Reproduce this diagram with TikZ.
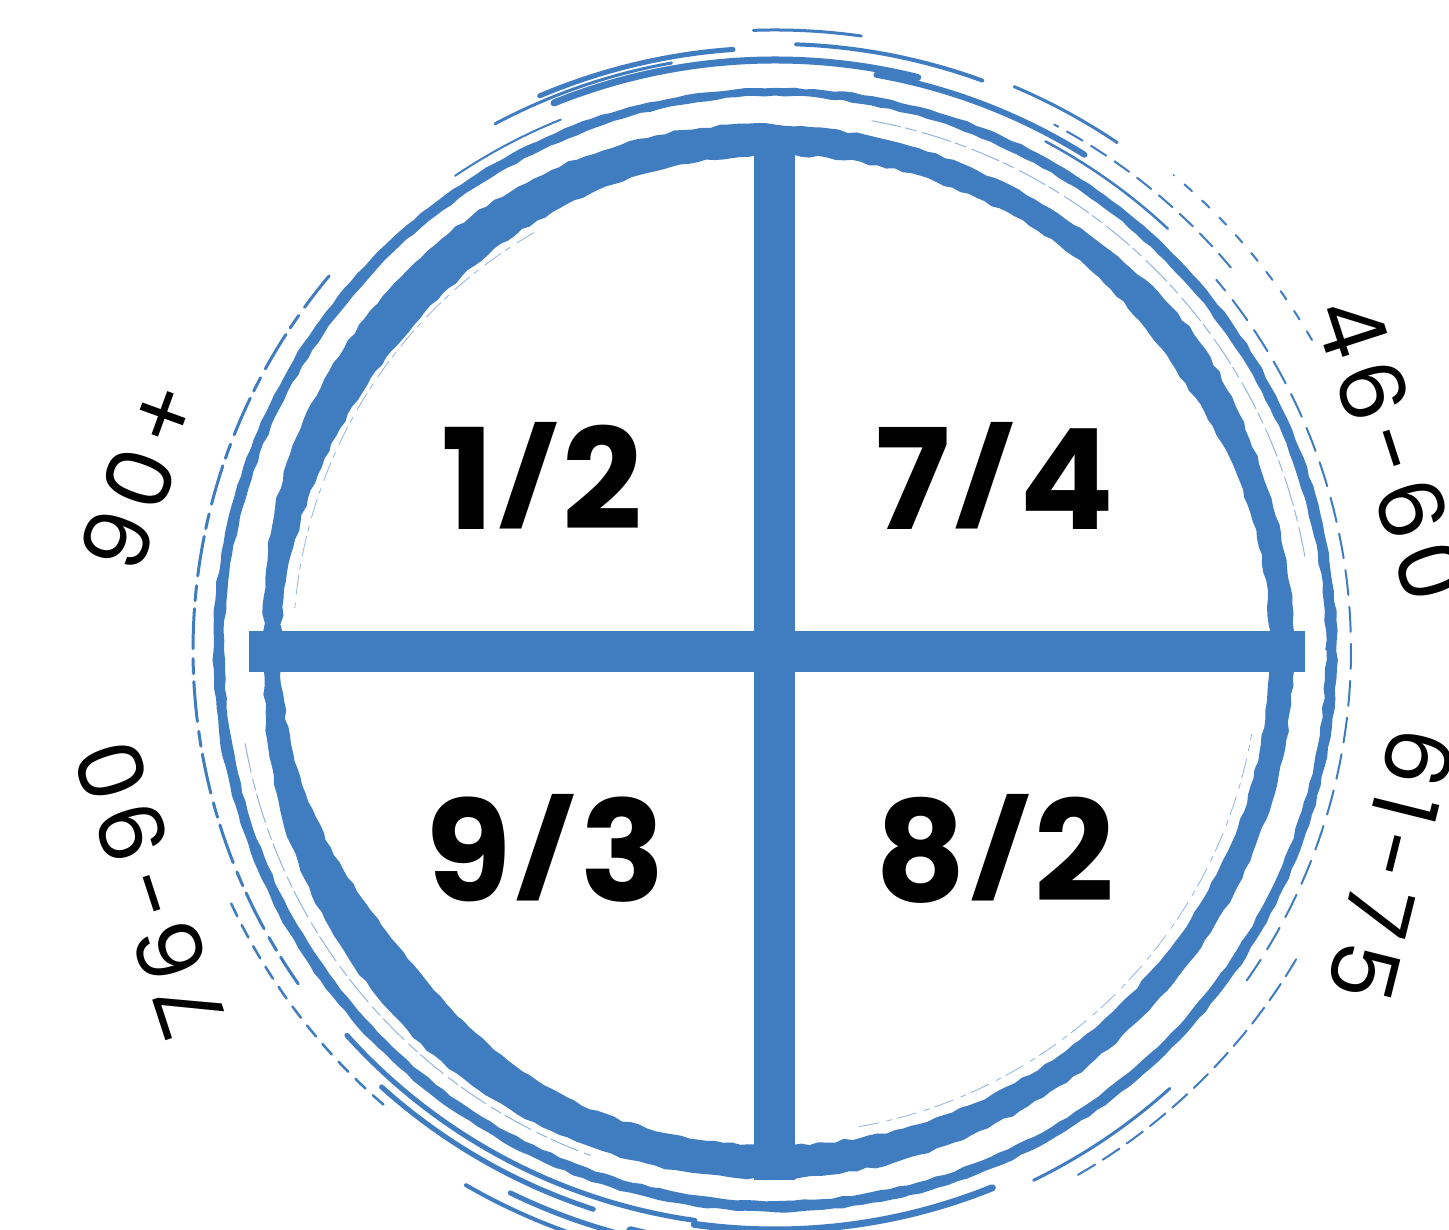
\documentclass[tikz,border=0pt]{standalone}
\usepackage{fontspec}
\usepackage{graphicx}
\setmainfont{Poppins}
\definecolor{brushblue}{RGB}{64,124,192}
\definecolor{faintblue}{RGB}{150,180,220}
\newcommand{\fracslash}{\kern0.03em\raisebox{0.134em}{\scalebox{0.95}[0.67]{/}}\kern0.03em}
\newcommand{\gp}{\kern9pt}
\tikzset{
  frac/.style={font=\fontsize{140}{146}\selectfont\bfseries, text=black, inner sep=0pt, anchor=base},
  agelabel/.style={font=\fontsize{90}{90}\selectfont, text=black, inner sep=0pt, anchor=center},
  crossbar/.style={draw=brushblue, line width=41pt},
  streak/.style={draw=brushblue, line cap=round},
  hair/.style={draw=faintblue, line width=1pt},
}
\begin{document}
\begin{tikzpicture}[x=1pt,y=1pt]
\useasboundingbox (0,0) rectangle (1449,1230);
\clip (0,0) rectangle (1449,1230);
\fill[white] (0,0) rectangle (1449,1230);
\pgfmathsetseed{11}
\begin{scope}[shift={(775,580)}]
  % thick brush ring
  \fill[brushblue, even odd rule]
    plot[domain=0:360, samples=361, variable=\t]
      (\t:{519 + 11*exp(-((\t-120)/40)^2) + 11*exp(-((\t-235)/30)^2) + 7*exp(-((\t-275)/25)^2) - 9*exp(-((\t-180)/14)^2) + 6*exp(-((\t-38)/10)^2) + 3*rnd - 1.5}) -- cycle
    plot[domain=0:360, samples=361, variable=\t]
      (\t:{495 - 9*exp(-((\t-140)/25)^2) - 16*exp(-((\t-218)/18)^2) - 6*exp(-((\t-35)/12)^2) + 3*rnd - 1.5}) -- cycle;
  % thin outer ring
  \fill[brushblue, even odd rule]
    plot[domain=0:360, samples=361, variable=\t]
      (\t:{561 + 2*rnd}) -- cycle
    plot[domain=0:360, samples=361, variable=\t]
      (\t:{550 + 2*rnd + 3*exp(-((\t-90)/20)^2)}) -- cycle;
  % faint hairlines
  \draw[hair, dash pattern=on 30pt off 6pt on 12pt off 4pt] (10:538) arc[start angle=10, end angle=80, radius=538];
  \draw[hair, dash pattern=on 30pt off 6pt on 12pt off 4pt] (190:538) arc[start angle=190, end angle=250, radius=538];
  \draw[hair, line width=0.8pt, dash pattern=on 20pt off 8pt on 6pt off 5pt] (120:482) arc[start angle=120, end angle=175, radius=482];
  \draw[hair, line width=0.8pt, dash pattern=on 20pt off 8pt on 6pt off 5pt] (280:484) arc[start angle=280, end angle=350, radius=484];
  \draw[streak, line width=3pt, dash pattern=on 40pt off 10pt on 15pt off 8pt] (140:582) arc[start angle=140, end angle=215, radius=582];
  \draw[streak, line width=2pt, dash pattern=on 25pt off 12pt] (-35:576) arc[start angle=-35, end angle=40, radius=576];
  % top streaks
  \foreach \r/\a/\b/\w in {590/76/112/7, 602/94/113/5, 584/58/80/6, 606/70/88/4, 612/56/67/3, 596/100/118/3, 576/47/62/2.5, 620/82/92/3, 572/112/124/2}
    \draw[streak, line width=\w pt] (\a:\r) arc[start angle=\a, end angle=\b, radius=\r];
  \draw[streak, line width=2pt, dash pattern=on 18pt off 10pt] (40:595) arc[start angle=40, end angle=62, radius=595];
  \draw[streak, line width=2pt, dash pattern=on 10pt off 14pt] (30:620) arc[start angle=30, end angle=50, radius=620];
  % bottom streaks
  \foreach \r/\a/\b/\w in {576/222/262/5, 588/228/252/5, 604/244/274/5, 580/262/292/7, 598/256/270/8, 618/240/258/4, 612/262/282/3, 590/296/312/3}
    \draw[streak, line width=\w pt] (\a:\r) arc[start angle=\a, end angle=\b, radius=\r];
  \draw[streak, line width=2.5pt, dash pattern=on 14pt off 10pt] (205:600) arc[start angle=205, end angle=230, radius=600];
  \draw[streak, line width=2pt, dash pattern=on 20pt off 9pt] (300:606) arc[start angle=300, end angle=330, radius=606];
\end{scope}
% cross
\coordinate (vt) at (774,1102);
\coordinate (vb) at (774,50);
\coordinate (hl) at (249,578);
\coordinate (hr) at (1305,578);
\draw[crossbar] (vt) -- (vb);
\draw[crossbar] (hl) -- (hr);
% fractions
\node[frac] (q1) at (542,700) {1\fracslash2};
\node[frac] (q2) at (995,700) {7\fracslash4};
\node[frac] (q3) at (545,328) {9\fracslash3};
\node[frac] (q4) at (995,328) {8\fracslash2};
% age labels
\begin{scope}[shift={(775,580)}]
  \node[agelabel, rotate=-72] (l1) at (18:649) {4\gp6\gp-\gp6\gp0};
  \node[agelabel, rotate=-104] (l2) at (-19.2:653) {6\gp1\gp-\gp7\gp5};
  \node[agelabel, rotate=108] (l3) at (200.9:669) {7\gp6\gp-\gp9\gp0};
  \node[agelabel, rotate=70] (l4) at (164.7:658) {9\gp0\gp+};
\end{scope}
\end{tikzpicture}
\end{document}
